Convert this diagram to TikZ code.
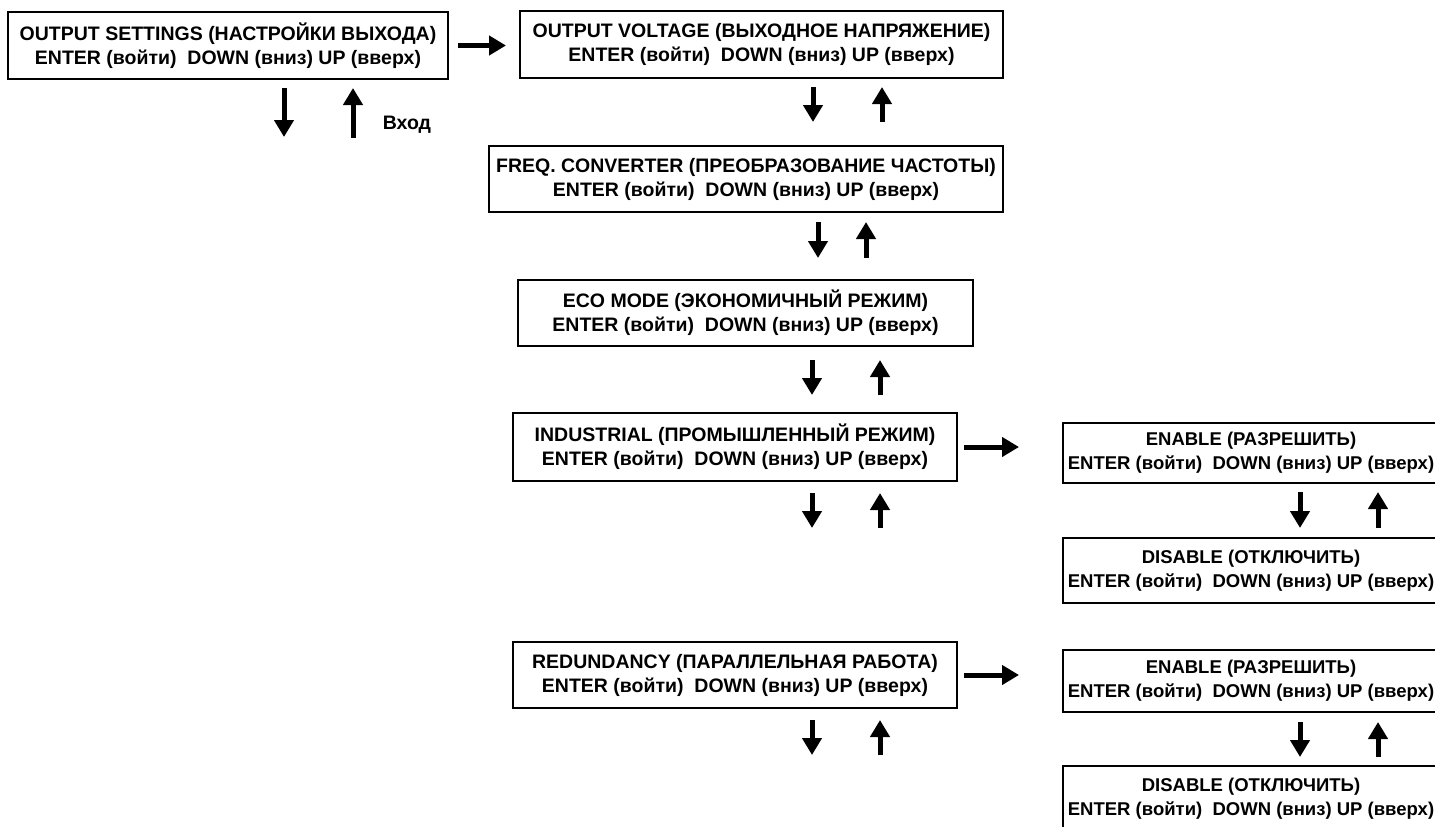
\documentclass[tikz,border=0pt]{standalone}
\usepackage{fontspec}
\setmainfont{Liberation Sans}
\usepackage{tikz}
\usetikzlibrary{arrows.meta, positioning}

\newcommand{\navkeys}{ENTER (войти)\ \ DOWN (вниз) UP (вверх)}

\begin{document}
\begin{tikzpicture}[
  x=1pt, y=1pt,
  every node/.style={font=\fontsize{19.5}{24}\selectfont\bfseries},
  menu/.style={rectangle, draw, line width=2pt, align=center, inner sep=0pt},
  submenu/.style={menu, minimum width=376pt, font=\fontsize{18.5}{24}\selectfont\bfseries},
  arr/.style={-{Triangle[width=19pt, length=17pt]}, line width=5pt}
]
  \useasboundingbox (0,0) rectangle (1435,-827);
  \clip (0,0) rectangle (1435,-827);

  % main menu column
  \node[menu, minimum width=440pt, minimum height=67pt] (settings) at (228,-45.5) {OUTPUT SETTINGS (НАСТРОЙКИ ВЫХОДА)\\\navkeys};
  \node[menu, minimum width=483pt, minimum height=67pt] (voltage) at (761.5,-44.5) {OUTPUT VOLTAGE (ВЫХОДНОЕ НАПРЯЖЕНИЕ)\\\navkeys};
  \node[menu, minimum width=514pt, minimum height=66pt] (freq) at (746,-179) {FREQ. CONVERTER (ПРЕОБРАЗОВАНИЕ ЧАСТОТЫ)\\\navkeys};
  \node[menu, minimum width=455pt, minimum height=66pt] (eco) at (745.5,-313) {ECO MODE (ЭКОНОМИЧНЫЙ РЕЖИМ)\\\navkeys};
  \node[menu, minimum width=444pt, minimum height=68pt] (industrial) at (735,-447) {INDUSTRIAL (ПРОМЫШЛЕННЫЙ РЕЖИМ)\\\navkeys};
  \node[menu, minimum width=444pt, minimum height=66pt] (redundancy) at (735,-675) {REDUNDANCY (ПАРАЛЛЕЛЬНАЯ РАБОТА)\\\navkeys};

  % sub menus
  \node[submenu, minimum height=60pt] (indon) at (1251,-453) {ENABLE (РАЗРЕШИТЬ)\\\navkeys};
  \node[submenu, minimum height=65pt] (indoff) at (1251,-570.5) {DISABLE (ОТКЛЮЧИТЬ)\\\navkeys};
  \node[submenu, minimum height=62pt] (redon) at (1251,-681) {ENABLE (РАЗРЕШИТЬ)\\\navkeys};
  \node[submenu, minimum height=65pt] (redoff) at (1251,-798.5) {DISABLE (ОТКЛЮЧИТЬ)\\\navkeys};

  \node (entry) at (407,-125) {Вход};

  \draw[arr, shorten <=9pt, shorten >=13pt] (settings.east) -- (settings.east -| voltage.west);
  \draw[arr, shorten <=6pt, shorten >=43pt] (industrial.east) -- (industrial.east -| indon.west);
  \draw[arr, shorten <=6pt, shorten >=43pt] (redundancy.east) -- (redundancy.east -| redon.west);

  % down / up pairs
  \draw[arr] (284,-88) -- (284,-137);
  \draw[arr] (353,-138) -- (353,-88);
  \draw[arr] (813,-87) -- (813,-122);
  \draw[arr] (882,-122) -- (882,-87);
  \draw[arr] (818,-222) -- (818,-258);
  \draw[arr] (866,-258) -- (866,-222);
  \draw[arr] (812,-360) -- (812,-395);
  \draw[arr] (880,-395) -- (880,-360);
  \draw[arr] (812,-493) -- (812,-528);
  \draw[arr] (880,-528) -- (880,-493);
  \draw[arr] (1300,-492) -- (1300,-528);
  \draw[arr] (1378,-528) -- (1378,-492);
  \draw[arr] (812,-720) -- (812,-755);
  \draw[arr] (880,-755) -- (880,-720);
  \draw[arr] (1300,-722) -- (1300,-757);
  \draw[arr] (1378,-757) -- (1378,-722);
\end{tikzpicture}
\end{document}
